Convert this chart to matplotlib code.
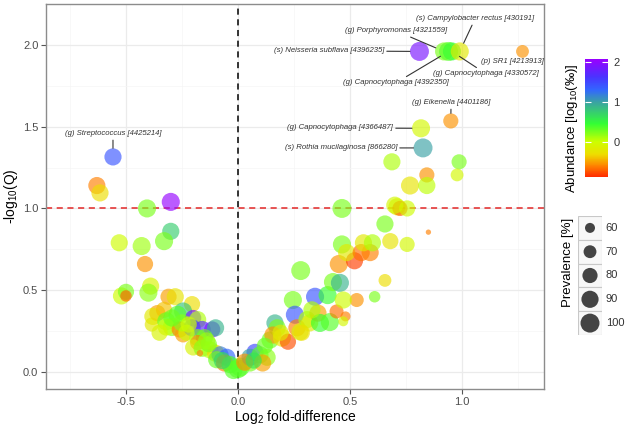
import numpy as np
import matplotlib
matplotlib.use("Agg")
import matplotlib.pyplot as plt
from matplotlib.colors import LinearSegmentedColormap, Normalize
from matplotlib.patches import Rectangle

plt.rcParams['font.family'] = ['Liberation Sans', 'DejaVu Sans']
plt.rcParams['mathtext.fontset'] = 'custom'
plt.rcParams['mathtext.rm'] = 'Liberation Sans'
plt.rcParams['mathtext.it'] = 'Liberation Sans:italic'
plt.rcParams['axes.unicode_minus'] = False

# log2 fold-difference of each OTU
fold = [0.81, 0.92, 0.94, 0.955, 0.99, 1.27, 0.95, 0.817, 0.826, -0.558,
        -0.63, -0.616, -0.406, -0.30, -0.30, -0.33, -0.53, -0.43, -0.415, -0.39,
        -0.40, -0.52, -0.50, -0.50, -0.385,
        -0.31, -0.28, -0.205, -0.36, -0.38, -0.33, -0.245, -0.27, -0.20, -0.18,
        -0.32, -0.295, -0.32, -0.35, -0.26, -0.245, -0.205, -0.16, -0.115, -0.10,
        -0.18, -0.15, -0.18, -0.20, -0.16, -0.125, -0.17, -0.10, -0.08, -0.05,
        -0.095, -0.06, -0.035, -0.02, 0.0, -0.25, -0.22, -0.13, -0.295,
        0.01, 0.054, 0.076, 0.054, 0.098, 0.13, 0.11, 0.03, 0.143, 0.165,
        0.175, 0.156, 0.196, 0.223, 0.245, 0.254, 0.263, 0.277, 0.308, 0.32,
        0.344, 0.357, 0.366, 0.40, 0.41, 0.44, 0.424, 0.455, 0.464, 0.28,
        0.45, 0.52, 0.485, 0.55, 0.59, 0.56, 0.60, 0.68, 0.755, 0.656,
        0.61, 0.53, 0.47, 0.48, 0.47, 0.464, 0.71, 0.723, 0.755, 0.656,
        0.85, 0.687, 0.987, 0.978, 0.843, 0.768, 0.843, 0.70, 0.12, 0.285,
        -0.14, -0.23, -0.07, 0.07, 0.19, 0.33]
# -log10(Q)
qval = [1.96, 1.96, 1.96, 1.96, 1.96, 1.96, 1.535, 1.49, 1.37, 1.315,
        1.14, 1.095, 1.0, 1.04, 0.86, 0.80, 0.79, 0.77, 0.66, 0.525,
        0.485, 0.465, 0.49, 0.465, 0.29,
        0.46, 0.46, 0.415, 0.36, 0.34, 0.38, 0.37, 0.35, 0.33, 0.32,
        0.31, 0.275, 0.275, 0.24, 0.26, 0.23, 0.27, 0.26, 0.26, 0.27,
        0.21, 0.21, 0.18, 0.15, 0.145, 0.135, 0.115, 0.115, 0.105, 0.09,
        0.075, 0.055, 0.045, 0.012, 0.02, 0.30, 0.29, 0.17, 0.33,
        0.03, 0.055, 0.12, 0.09, 0.105, 0.09, 0.055, 0.06, 0.195, 0.30,
        0.27, 0.226, 0.21, 0.185, 0.44, 0.35, 0.27, 0.245, 0.32, 0.30,
        0.46, 0.36, 0.30, 0.47, 0.305, 0.37, 0.55, 0.545, 0.78, 0.62,
        0.66, 0.68, 0.73, 0.73, 0.73, 0.79, 0.79, 0.80, 0.78, 0.56,
        0.46, 0.44, 0.44, 0.34, 0.31, 1.0, 1.01, 1.0, 1.0, 0.905,
        0.855, 1.285, 1.285, 1.205, 1.205, 1.14, 1.14, 1.02, 0.16, 0.24,
        0.19, 0.24, 0.07, 0.07, 0.24, 0.38]
# abundance, log10(permille)
abund = [1.9, 0.25, 0.35, 0.45, -0.2, -0.55, -0.55, -0.05, 1.0, 1.4,
         -0.6, -0.3, 0.25, 2.05, 0.75, 0.25, 0.0, 0.15, -0.55, -0.1,
         0.2, 0.0, 0.25, -0.7, -0.2,
         -0.5, -0.25, -0.3, -0.5, -0.2, -0.4, 0.8, 0.35, 1.9, 0.1,
         0.3, 0.2, 0.0, -0.1, -0.6, -0.5, 1.5, 1.7, 1.9, 0.9,
         0.2, 0.3, -0.6, -0.1, 0.2, 0.1, -0.6, -0.3, 1.2, 1.3,
         0.3, -0.6, 0.4, 0.35, 0.35, 0.2, 0.0, 0.25, 0.3,
         0.35, 0.25, 1.5, 1.0, 0.35, 0.2, -0.5, -0.55, 0.3, 0.9,
         0.25, -0.55, -0.25, -0.75, 0.25, 1.4, -0.6, -0.1, 0.1, -0.2,
         1.4, -0.5, 0.45, 0.45, 0.35, -0.65, 0.25, 0.9, 0.25, 0.25,
         -0.55, -0.8, -0.2, -0.65, -0.6, -0.2, 0.1, -0.25, -0.05, -0.3,
         0.25, -0.55, 0.0, -0.6, -0.05, 0.25, -0.15, -0.7, 0.0, 0.25,
         -0.6, 0.1, 0.25, -0.05, -0.55, -0.25, 0.05, -0.05, 0.3, -0.3,
         0.15, 0.0, 0.7, 0.6, -0.2, 0.1]
# prevalence, %
prev = [100, 95, 100, 95, 95, 70, 80, 95, 100, 90,
        90, 90, 95, 95, 90, 95, 90, 95, 85, 90,
        95, 90, 85, 65, 75,
        85, 90, 85, 85, 90, 85, 95, 95, 85, 90,
        95, 95, 90, 85, 85, 85, 90, 90, 85, 90,
        90, 90, 80, 85, 90, 90, 51, 90, 90, 90,
        90, 90, 90, 95, 100, 90, 85, 85, 90,
        100, 90, 90, 90, 90, 90, 90, 90, 90, 90,
        90, 90, 95, 85, 95, 95, 90, 90, 90, 90,
        95, 90, 95, 95, 95, 75, 95, 95, 95, 100,
        95, 90, 90, 90, 90, 90, 90, 85, 80, 70,
        65, 75, 90, 60, 60, 100, 90, 80, 85, 90,
        49, 90, 80, 70, 80, 95, 90, 90, 85, 85,
        90, 85, 90, 85, 85, 90]

# labelled OTUs: index of point, label text
lab_idx = [0, 1, 2, 3, 4, 5, 6, 7, 8, 9]
lab_text = ["(s) Neisseria subflava [4396235]", "(g) Porphyromonas [4321559]",
            "(g) Capnocytophaga [4392350]", "(g) Capnocytophaga [4330572]",
            "(s) Campylobacter rectus [430191]", "(p) SR1 [4213913]",
            "(g) Eikenella [4401186]", "(g) Capnocytophaga [4366487]",
            "(s) Rothia mucilaginosa [866280]", "(g) Streptococcus [4425214]"]
# label placement (data coords) and alignment
lab_pos = [(0.652, 1.963, 'right'), (0.705, 2.086, 'center'), (0.705, 1.768, 'center'),
           (1.107, 1.823, 'center'), (1.058, 2.159, 'center'), (1.223, 1.896, 'center'),
           (0.951, 1.645, 'center'), (0.692, 1.492, 'right'), (0.71, 1.37, 'right'),
           (-0.558, 1.456, 'center')]

size_keys = [60, 70, 80, 90, 100]


def psize(p):
    d2 = 100 + 6.5 * (np.asarray(p, dtype=float) - 60)  # diameter^2 in px
    return 0.5184 * d2


cmap = LinearSegmentedColormap.from_list("abund", [
    (0.00, '#ff2a00'), (0.09, '#ff8000'), (0.19, '#eedd00'), (0.30, '#ccff00'),
    (0.45, '#33ff33'), (0.63, '#3aa5a0'), (0.74, '#3366ff'), (0.85, '#4a33ff'),
    (1.00, '#9900ff')])
norm = Normalize(vmin=-0.875, vmax=2.08)

fig = plt.figure(figsize=(6.25, 4.28), dpi=100)
ax = fig.add_axes([46 / 625, 39 / 428, 498 / 625, 385 / 428])

ax.set_xlim(-0.857, 1.366)
ax.set_ylim(-0.104, 2.25)
ax.set_xticks([-0.5, 0.0, 0.5, 1.0])
ax.set_yticks([0.0, 0.5, 1.0, 1.5, 2.0])
ax.set_xticks(np.arange(-0.75, 1.3, 0.5), minor=True)
ax.set_yticks(np.arange(0.25, 2.3, 0.5), minor=True)
ax.grid(which='major', color='#ebebeb', lw=0.9)
ax.grid(which='minor', color='#f5f5f5', lw=0.5)
ax.set_axisbelow(True)
for sp in ax.spines.values():
    sp.set_color('#8c8c8c')
    sp.set_linewidth(1.0)
ax.tick_params(which='major', length=3.5, pad=2, color='#555555', labelsize=8,
               labelcolor='#4d4d4d')
ax.tick_params(which='minor', length=0)

ax.axvline(0, color='black', lw=1.1, ls=(0, (4, 3)), zorder=1)
ax.axhline(1.0, color='#e32626', lw=1.1, ls=(0, (4, 3)), zorder=1)

ax.scatter(fold, qval, s=psize(prev), c=abund, cmap=cmap, norm=norm,
           alpha=0.65, edgecolors='none', zorder=2)

for i, t, (tx, ty, ha) in zip(lab_idx, lab_text, lab_pos):
    rad = np.sqrt(psize(prev[i])) / 2
    if t.startswith("(p) SR1"):
        ax.text(tx, ty, t, ha=ha, va='center', fontsize=5.6, style='italic', color='#333333')
        continue
    ax.annotate(t, xy=(fold[i], qval[i]), xytext=(tx, ty), ha=ha, va='center',
                fontsize=5.6, style='italic', color='#333333', zorder=3,
                arrowprops=dict(arrowstyle='-', color='#333333', lw=0.8,
                                shrinkA=0, shrinkB=rad))

ax.set_xlabel('Log$_2$ fold-difference', fontsize=10, labelpad=1)
ax.set_ylabel('-log$_{10}$(Q)', fontsize=10, labelpad=2)

# colour legend
cax = fig.add_axes([585 / 625, 251 / 428, 23 / 625, 118 / 428])
sm = plt.cm.ScalarMappable(norm=norm, cmap=cmap)
cb = fig.colorbar(sm, cax=cax, ticks=[0, 1, 2])
cb.outline.set_visible(False)
cax.tick_params(direction='in', color='white', length=4.5, width=0.8,
                left=True, right=True, labelsize=8, labelcolor='#333333', pad=4)
fig.text(572 / 625, 1 - 128 / 428, 'Abundance [log$_{10}$(‰)]', rotation=90,
         ha='center', va='center', fontsize=9.5)

# size legend
lax = fig.add_axes([578 / 625, 93 / 428, 24 / 625, 119 / 428])
lax.set_xlim(0, 1)
lax.set_ylim(0, len(size_keys))
lax.axis('off')
for k, p in enumerate(size_keys):
    yc = len(size_keys) - k - 0.5
    lax.add_patch(Rectangle((0, yc - 0.5), 1, 1, facecolor='#f8f8f8',
                            edgecolor='#c8c8c8', lw=0.8))
    lax.scatter([0.5], [yc], s=psize(p), color='#444444', edgecolors='none', zorder=3)
    lax.text(1.15, yc, str(p), ha='left', va='center', fontsize=8, color='#333333')
fig.text(568 / 625, 1 - 262 / 428, 'Prevalence [%]', rotation=90,
         ha='center', va='center', fontsize=9.5)

fig.savefig('out.png', dpi=100)
